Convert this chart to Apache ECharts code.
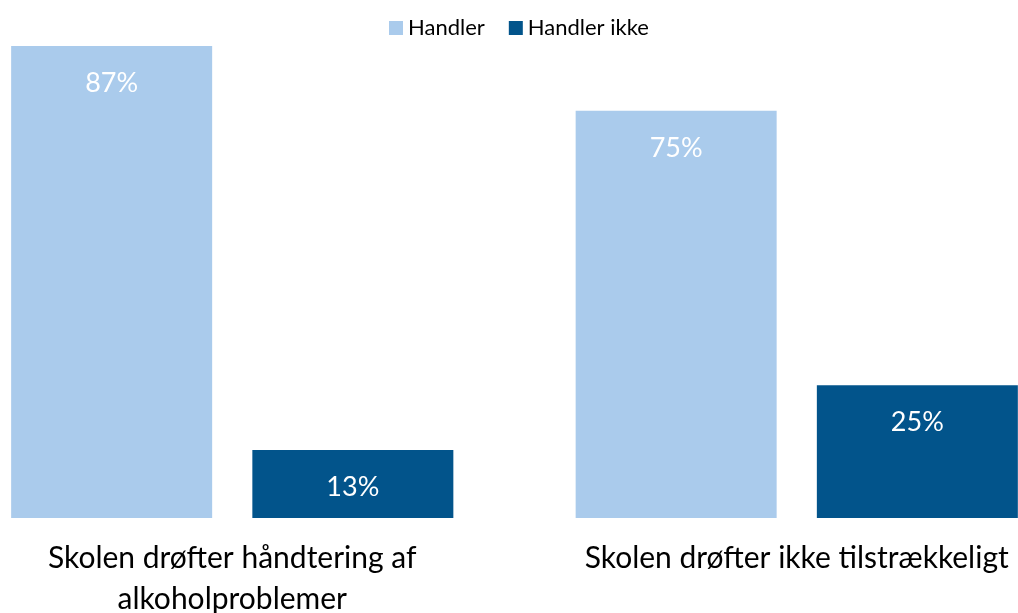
<!DOCTYPE html>
<html>
<head>
<meta charset="utf-8">
<script src="https://cdn.jsdelivr.net/npm/echarts@6/dist/echarts.min.js"></script>
<style>
html,body{margin:0;padding:0;background:#fff;}
#chart{width:1018px;height:613px;}
</style>
</head>
<body>
<div id="chart"></div>
<script>
var categories = ['Skolen drøfter håndtering af\nalkoholproblemer', 'Skolen drøfter ikke tilstrækkeligt'];
var seriesNames = ['Handler', 'Handler ikke'];
var handler = [87.4, 75.4];
var handlerIkke = [12.6, 24.6];
var colors = ['#AACBEC', '#02548B'];

var chart = echarts.init(document.getElementById('chart'));
var labelCfg = {
  show: true,
  position: 'insideTop',
  distance: 24,
  color: '#ffffff',
  fontFamily: 'Lato',
  fontSize: 27,
  formatter: function (p) { return Math.round(p.value) + '%'; }
};
chart.setOption({
  animation: false,
  legend: {
    top: 12,
    left: 384,
    itemWidth: 14,
    itemHeight: 14,
    itemGap: 24,
    icon: 'rect',
    textStyle: { fontFamily: 'Lato', fontSize: 22, color: '#000' },
    data: seriesNames
  },
  grid: { left: -50, right: -61, top: 32, bottom: 95, containLabel: false, outerBoundsMode: 'none' },
  xAxis: {
    type: 'category',
    data: categories,
    axisLine: { show: false },
    axisTick: { show: false },
    axisLabel: { fontFamily: 'Lato', fontSize: 30, color: '#000', margin: 20, lineHeight: 41, interval: 0 }
  },
  yAxis: {
    type: 'value',
    min: 0,
    max: 90,
    show: false,
    splitLine: { show: false }
  },
  series: [
    { name: seriesNames[0], type: 'bar', data: handler, barWidth: 201, barGap: '20%', itemStyle: { color: colors[0] }, label: labelCfg },
    { name: seriesNames[1], type: 'bar', data: handlerIkke, barWidth: 201, barGap: '20%', itemStyle: { color: colors[1] }, label: labelCfg }
  ]
});
</script>
</body>
</html>
